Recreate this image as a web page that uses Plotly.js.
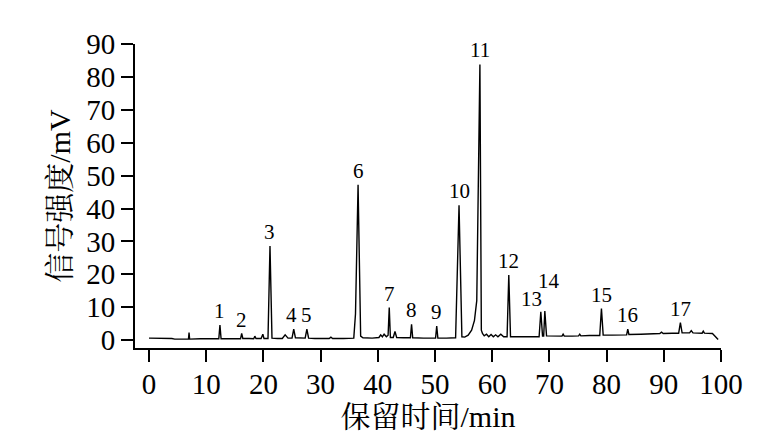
<!DOCTYPE html>
<html>
<head>
<meta charset="utf-8">
<script src="https://cdn.plot.ly/plotly-3.0.1.min.js"></script>
<style>html,body{margin:0;padding:0;background:#fff;}#chart{width:777px;height:441px;}</style>
</head>
<body>
<div id="chart"></div>
<script>
// Chromatogram trace: retention time (min) and signal (mV)
const retentionTime = [0, 2, 4, 4.5, 6, 6.9, 7.0, 7.1, 9, 12.2, 12.4, 12.6, 14, 16.0, 16.2, 16.4, 17.5, 18.3, 18.5, 18.7,
  19.6, 19.9, 20.1, 20.8, 21.15, 21.5, 22.5, 23.3, 23.8, 24.3, 25.0, 25.3, 25.6, 26.5, 27.3, 27.6, 27.9, 29, 31.5, 31.8,
  32.1, 34, 35.8, 36.1, 36.55, 37.0, 37.4, 39, 40.2, 40.5, 40.8, 41.1, 41.5, 41.8, 42.0, 42.2, 42.7, 43.0, 43.3, 44.5,
  45.7, 45.9, 46.1, 48, 50.1, 50.3, 50.5, 52, 53.6, 54.2, 54.7, 55.2, 55.8, 56.4, 56.9, 57.3, 57.85, 58.1, 58.3, 58.6,
  59.0, 59.4, 59.8, 60.2, 60.6, 61.0, 61.5, 62.0, 62.6, 62.9, 63.2, 64, 66, 68.2, 68.5, 68.8, 69.0, 69.2, 69.5, 71,
  72.2, 72.4, 72.6, 74, 75.1, 75.3, 75.5, 77, 78.8, 79.1, 79.4, 81, 83.5, 83.7, 83.9, 86, 89.3, 89.6, 89.9, 91.5,
  92.6, 92.9, 93.2, 94.5, 94.8, 95.1, 96.0, 96.7, 96.9, 97.1, 98.5, 99.2, 99.5];
const signal = [0.6, 0.6, 0.5, 0.3, 0.3, 0.3, 2.3, 0.3, 0.4, 0.4, 4.6, 0.4, 0.4, 0.4, 2.0, 0.5, 0.5, 0.4, 1.2, 0.5,
  0.5, 1.8, 0.5, 0.5, 28.6, 0.6, 0.5, 0.5, 1.6, 0.6, 0.6, 3.3, 0.7, 0.6, 0.6, 3.3, 0.6, 0.5, 0.5, 0.9,
  0.5, 0.5, 0.6, 8.0, 47.2, 1.2, 0.7, 0.6, 0.8, 1.6, 1.0, 1.8, 1.0, 1.5, 9.9, 0.8, 0.8, 2.6, 0.8, 0.7,
  0.7, 4.8, 0.7, 0.6, 0.6, 4.3, 0.6, 0.6, 0.7, 41.0, 1.0, 0.9, 1.5, 3.0, 6.0, 12.0, 83.8, 3.0, 2.0, 1.3,
  1.8, 1.0, 1.7, 1.0, 1.6, 1.0, 1.8, 1.0, 1.0, 19.8, 1.0, 1.0, 1.0, 1.0, 8.6, 1.2, 1.2, 8.8, 1.3, 1.2,
  1.2, 1.8, 1.2, 1.2, 1.3, 1.8, 1.3, 1.4, 1.4, 9.6, 1.5, 1.5, 1.6, 3.3, 1.7, 1.8, 2.0, 2.4, 2.0, 2.1,
  2.1, 5.3, 2.2, 2.2, 2.9, 2.2, 2.1, 2.1, 2.7, 2.1, 2.0, 0.8, 0.2];

// Peak labels
const peakNames = ['1','2','3','4','5','6','7','8','9','10','11','12','13','14','15','16','17'];
const peakTimes = [12.4, 16.2, 21.15, 25.3, 27.6, 36.55, 42.0, 45.9, 50.3, 54.2, 57.85, 62.9, 68.5, 69.2, 79.1, 83.7, 92.9];
const peakHeights = [4.6, 2.0, 28.6, 3.3, 3.3, 47.2, 9.9, 4.8, 4.3, 41.0, 83.8, 19.8, 8.6, 8.8, 9.6, 3.3, 5.3];

const xTicks = [0, 10, 20, 30, 40, 50, 60, 70, 80, 90, 100];
const yTicks = [0, 10, 20, 30, 40, 50, 60, 70, 80, 90];

const FONT = 'Liberation Serif, "Times New Roman", "Noto Serif CJK SC", "Noto Sans CJK SC", serif';

const labelShift = {'13': [-9, -1], '14': [4, 16], '4': [-2, 0], '5': [0, 0]};

const annotations = peakNames.map((n, i) => {
  const s = labelShift[n] || [0, 0];
  return {
    x: peakTimes[i], y: peakHeights[i], xref: 'x', yref: 'y',
    text: n, showarrow: false, xanchor: 'center', yanchor: 'bottom',
    xshift: s[0], yshift: 0 + s[1],
    font: {family: FONT, size: 21, color: '#000'}
  };
});

const axisCommon = {
  showline: true, linecolor: '#000', linewidth: 2,
  ticks: 'outside', ticklen: 12, tickwidth: 2, tickcolor: '#000',
  showgrid: false, zeroline: false,
  tickfont: {family: FONT, size: 29, color: '#000'},
  automargin: false
};

const layout = {
  width: 777, height: 441,
  margin: {l: 135, r: 56, t: 44, b: 93, pad: 0},
  paper_bgcolor: '#fff', plot_bgcolor: '#fff',
  showlegend: false,
  xaxis: Object.assign({}, axisCommon, {
    range: [-2.45, 100], tickmode: 'array', tickvals: xTicks, ticktext: xTicks.map(String),
    ticklabelstandoff: -3,
    title: {text: '保留时间/min', font: {family: FONT, size: 30, color: '#000'}, standoff: 0}
  }),
  yaxis: Object.assign({}, axisCommon, {
    range: [-2.4, 90], tickmode: 'array', tickvals: yTicks, ticktext: yTicks.map(String),
    title: {text: '信号强度/mV', font: {family: FONT, size: 30, color: '#000'}, standoff: 7}
  }),
  annotations: annotations
};

Plotly.newPlot('chart', [{
  x: retentionTime, y: signal, type: 'scatter', mode: 'lines',
  line: {color: '#000', width: 1.4}, hoverinfo: 'skip', cliponaxis: false
}], layout, {staticPlot: true, displayModeBar: false});
</script>
</body>
</html>
